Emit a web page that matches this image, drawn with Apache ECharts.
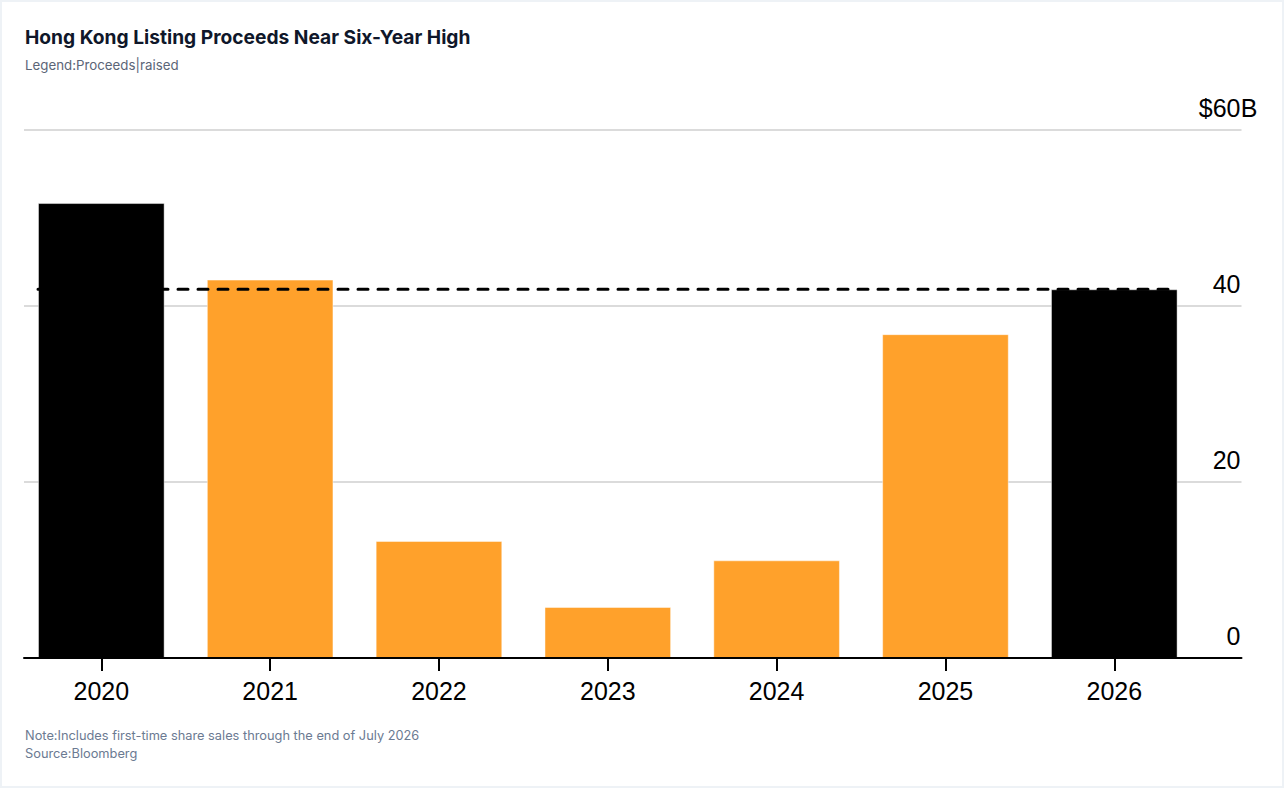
<!DOCTYPE html>
<html>
<head>
<meta charset="utf-8">
<script src="https://cdn.jsdelivr.net/npm/echarts@6/dist/echarts.min.js"></script>
<style>
  html, body { margin: 0; padding: 0; width: 1284px; height: 788px; background: #eef2f6; overflow: hidden; }
  #card { position: absolute; left: 2px; top: 2px; width: 1280px; height: 784px; background: #ffffff; }
  #chart { position: absolute; left: 0; top: 0; width: 1284px; height: 788px; }
</style>
</head>
<body>
<div id="card"></div>
<div id="chart"></div>
<script>
// ---- data ----
const years = ['2020', '2021', '2022', '2023', '2024', '2025', '2026'];
const proceeds = [51.7, 43.0, 13.3, 5.8, 11.1, 36.8, 41.9];          // US$ billions
const highlighted = [true, false, false, false, false, false, true];  // black bars
const yTicks = [0, 20, 40, 60];
const referenceLevel = [41.9];                                        // dashed line (2026 level)

const titleText = 'Hong Kong Listing Proceeds Near Six-Year High';
const subtitleText = 'Legend:Proceeds|raised';
const noteText = 'Note:Includes first-time share sales through the end of July 2026';
const sourceText = 'Source:Bloomberg';

// ---- styles ----
const ORANGE = '#FFA12B';
const BLACK = '#000000';
const BAR_RATIO = 0.75;
const UI_FONT = 'Inter, "Noto Sans", sans-serif';
const AXIS_FONT = '"Liberation Sans", Arial, Helvetica, sans-serif';
const UNIT_W = 17;   // room reserved for the trailing "B" of the top label

const chart = echarts.init(document.getElementById('chart'), null, { renderer: 'svg' });

const barData = proceeds.map((v, i) => ({
  value: v,
  itemStyle: { color: highlighted[i] ? BLACK : ORANGE }
}));

const refStart = -BAR_RATIO / 2;
const refEnd = (years.length - 1) + BAR_RATIO / 2;
const refData = [[refStart, referenceLevel[0]], [refEnd, referenceLevel[0]]];

const option = {
  animation: false,
  backgroundColor: 'transparent',
  graphic: [
    { type: 'text', x: 25, y: 37, style: { text: titleText, fontFamily: UI_FONT, fontSize: 19.2, fontWeight: 'bold', fill: '#0f172a', verticalAlign: 'middle' } },
    { type: 'text', x: 25, y: 65, style: { text: subtitleText, fontFamily: UI_FONT, fontSize: 13.3, fill: '#5b6577', verticalAlign: 'middle' } },
    { type: 'text', x: 25, y: 735, style: { text: noteText, fontFamily: UI_FONT, fontSize: 12.8, fill: '#6b7a92', verticalAlign: 'middle' } },
    { type: 'text', x: 25, y: 753, style: { text: sourceText, fontFamily: UI_FONT, fontSize: 12.8, fill: '#6b7a92', verticalAlign: 'middle' } }
  ],
  grid: [
    { left: 16.9, right: 85.3, top: 130, bottom: 130 },   // bars
    { left: 24, right: 42.5, top: 130, bottom: 130 }      // gridlines, baseline, y labels
  ],
  xAxis: [
    {
      type: 'category', gridIndex: 0, data: years,
      axisLine: { show: false },
      axisTick: { show: true, alignWithLabel: true, length: 13, lineStyle: { color: BLACK, width: 2 } },
      axisLabel: { fontSize: 25, color: BLACK, fontFamily: AXIS_FONT, margin: 20 },
      splitLine: { show: false }
    },
    {
      type: 'value', gridIndex: 0, min: -0.5, max: years.length - 0.5, show: false
    },
    {
      type: 'category', gridIndex: 1, data: years,
      axisLine: { show: true, lineStyle: { color: BLACK, width: 2 } },
      axisTick: { show: false },
      axisLabel: { show: false },
      splitLine: { show: false },
      z: 10
    }
  ],
  yAxis: [
    { type: 'value', gridIndex: 0, min: 0, max: 60, interval: 20, show: false },
    {
      type: 'value', gridIndex: 1, min: 0, max: 60, interval: 20, position: 'right',
      axisLine: { show: false },
      axisTick: { show: false },
      splitLine: { show: true, lineStyle: { color: '#cfcfcf', width: 1.5 } },
      axisLabel: {
        inside: true, margin: 1 - UNIT_W, align: 'right', verticalAlign: 'bottom',
        fontSize: 25, color: BLACK, fontFamily: AXIS_FONT,
        padding: [0, 0, 9, 0],
        formatter: function (v) {
          if (v === yTicks[yTicks.length - 1]) return '{n|$' + v + '}{u|B}';
          return '{n|' + v + '}{s| }';
        },
        rich: {
          n: { fontSize: 25, color: BLACK, fontFamily: AXIS_FONT, lineHeight: 26 },
          u: { fontSize: 25, color: BLACK, fontFamily: AXIS_FONT, lineHeight: 26, width: UNIT_W, align: 'left' },
          s: { fontSize: 25, color: BLACK, fontFamily: AXIS_FONT, lineHeight: 26, width: UNIT_W }
        }
      }
    }
  ],
  series: [
    {
      type: 'bar', xAxisIndex: 0, yAxisIndex: 0,
      data: barData,
      barCategoryGap: ((1 - BAR_RATIO) * 100) + '%',
      itemStyle: { borderColor: 'rgba(255,255,255,0.45)', borderWidth: 1 },
      z: 2
    },
    {
      type: 'line', xAxisIndex: 1, yAxisIndex: 0,
      data: refData,
      symbol: 'none',
      lineStyle: { color: BLACK, width: 3, type: [10, 10], cap: 'round' },
      z: 5,
      silent: true
    }
  ]
};

chart.setOption(option);
</script>
</body>
</html>
